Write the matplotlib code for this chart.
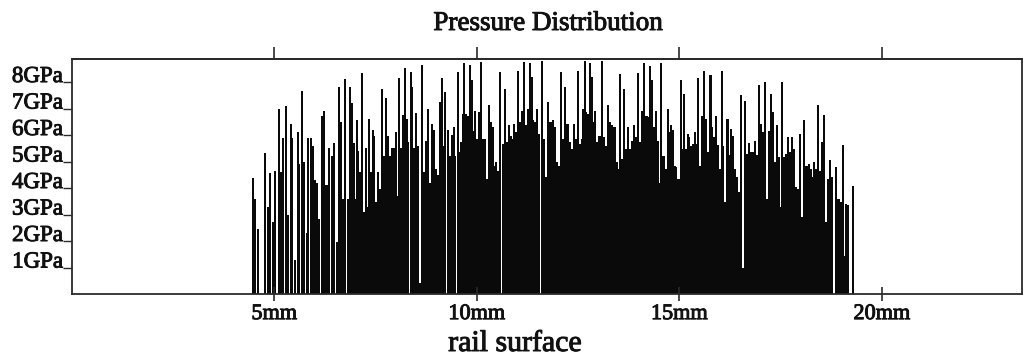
import matplotlib
matplotlib.use("Agg")
import matplotlib.pyplot as plt
import matplotlib.patheffects as pe

# ---- data (position along rail in mm, pressure in GPa) ----
position_mm = [
    4.47, 4.53, 4.60, 4.78, 4.84, 4.90, 4.96, 5.02, 5.11, 5.17, 5.21, 5.29, 5.35, 5.41, 5.45, 5.51,
    5.58, 5.62, 5.68, 5.74, 5.80, 5.84, 5.91, 5.95, 6.00, 6.05, 6.11, 6.17, 6.23, 6.29, 6.36, 6.42,
    6.48, 6.54, 6.59, 6.65, 6.70, 6.75, 6.81, 6.87, 6.92, 6.98,
    7.01, 7.04, 7.07, 7.12, 7.17, 7.22, 7.26, 7.29, 7.35, 7.39, 7.44, 7.47, 7.50, 7.55, 7.60, 7.65,
    7.70, 7.75, 7.80, 7.85, 7.90, 7.95, 8.00, 8.05, 8.09, 8.13, 8.17, 8.23, 8.27, 8.31, 8.37, 8.41,
    8.46, 8.51, 8.56, 8.60, 8.64, 8.69, 8.74, 8.80, 8.85, 8.90, 8.95, 9.00, 9.05, 9.10, 9.13, 9.18,
    9.22, 9.28, 9.33, 9.38, 9.43, 9.47, 9.53, 9.58,
    9.60, 9.65, 9.69, 9.73, 9.78, 9.83, 9.87, 9.91, 9.96, 10.01, 10.06, 10.11, 10.16, 10.21, 10.26,
    10.30, 10.34, 10.39, 10.43, 10.47, 10.52, 10.58, 10.64, 10.69, 10.74, 10.79, 10.84, 10.89, 10.93,
    10.98, 11.02, 11.07, 11.12, 11.17, 11.21, 11.26, 11.31, 11.36, 11.40, 11.45, 11.49, 11.54, 11.61,
    11.66, 11.71, 11.77, 11.82, 11.87, 11.92, 11.97, 12.02, 12.07, 12.12, 12.17,
    12.19, 12.24, 12.29, 12.34, 12.39, 12.44, 12.49, 12.54, 12.59, 12.62, 12.66, 12.70, 12.75, 12.80,
    12.84, 12.89, 12.93, 12.98, 13.03, 13.10, 13.15, 13.20, 13.25, 13.30, 13.35, 13.40, 13.45, 13.49,
    13.54, 13.59, 13.64, 13.69, 13.74, 13.79, 13.84, 13.89, 13.94, 13.99, 14.04, 14.09, 14.14, 14.19,
    14.24, 14.27, 14.32, 14.37, 14.42, 14.47, 14.52, 14.56, 14.61, 14.66, 14.71, 14.76,
    14.79, 14.84, 14.89, 14.93, 14.98, 15.03, 15.08, 15.12, 15.17, 15.21, 15.25, 15.30, 15.35, 15.39,
    15.44, 15.47, 15.52, 15.56, 15.61, 15.66, 15.71, 15.77, 15.81, 15.86, 15.91, 15.96, 16.00, 16.05,
    16.09, 16.14, 16.19, 16.24, 16.28, 16.33, 16.38, 16.43, 16.48, 16.53, 16.58, 16.61, 16.66, 16.71,
    16.76, 16.81, 16.86, 16.91, 16.96, 17.01, 17.06, 17.11, 17.16, 17.21, 17.26, 17.31, 17.35,
    17.40, 17.45, 17.49, 17.54, 17.59, 17.64, 17.69, 17.74, 17.79, 17.84, 17.89, 17.94, 17.99, 18.04,
    18.09, 18.14, 18.19, 18.24, 18.28, 18.33, 18.38, 18.43, 18.48, 18.53, 18.58, 18.63, 18.68, 18.73,
    18.76, 18.88, 18.93, 18.98, 19.03, 19.07, 19.12, 19.17, 19.28,
]
pressure_gpa = [
    4.37, 3.60, 2.47, 5.34, 3.30, 4.58, 2.70, 4.65, 7.00, 4.60, 5.88, 7.10, 3.00, 6.40, 5.90, 1.30,
    6.10, 4.90, 7.68, 5.00, 2.30, 5.90, 5.90, 5.60, 4.30, 4.20, 2.83, 6.73, 6.92, 4.10, 5.50, 5.20,
    5.70, 1.95, 7.80, 6.50, 3.60, 8.12, 3.60, 7.80, 7.20, 5.70,
    3.60, 6.55, 5.40, 4.60, 8.35, 3.10, 5.50, 3.30, 6.60, 4.60, 6.20, 5.98, 3.46, 4.60, 3.97, 7.74,
    5.20, 7.40, 5.98, 5.20, 5.50, 5.50, 6.10, 3.70, 8.15, 5.50, 6.76, 8.53, 6.60, 5.72, 8.39, 7.80,
    5.50, 6.84, 5.60, 0.40, 8.65, 4.60, 5.79, 6.99, 4.20, 6.42, 6.20, 4.72, 4.50, 7.24, 8.15, 5.60,
    7.64, 6.20, 5.20, 6.00, 6.30, 5.20, 8.37, 5.35,
    5.72, 6.80, 8.72, 6.80, 6.73, 8.65, 8.06, 6.17, 6.92, 5.85, 6.86, 8.75, 5.85, 5.85, 4.35,
    7.14, 6.48, 6.30, 4.85, 4.97, 4.66, 8.37, 5.66, 7.74, 5.72, 6.36, 5.98, 5.85, 6.42,
    6.10, 8.43, 6.48, 6.92, 8.77, 6.36, 6.99, 8.72, 8.18, 6.55, 6.48, 6.99, 6.05, 8.80,
    5.85, 4.41, 7.24, 6.48, 6.55, 6.30, 4.97, 4.85, 8.39, 5.85, 7.80,
    5.72, 6.40, 5.72, 5.48, 6.42, 5.85, 8.43, 5.66, 5.85, 6.99, 8.80, 6.86, 6.80, 8.72,
    8.18, 6.48, 6.92, 5.72, 5.98, 8.80, 5.91, 5.60, 7.14, 6.48, 6.36, 6.30, 4.97, 4.72,
    8.30, 5.10, 7.74, 5.48, 6.30, 5.48, 5.79, 6.36, 5.91, 8.35, 5.72, 6.92, 8.72, 6.73,
    6.67, 8.62, 8.06, 6.30, 6.92, 5.79, 4.20, 8.72, 5.20, 4.72, 6.99, 6.10,
    6.36, 6.20, 4.85, 4.78, 4.35, 8.06, 5.48, 7.55, 5.48, 6.05, 5.91, 5.60, 5.66, 6.12,
    5.66, 8.15, 4.85, 6.73, 8.43, 6.60, 5.35, 8.27, 6.30, 5.91, 6.73, 5.63, 4.72, 8.43,
    5.60, 3.46, 6.60, 5.23, 6.23, 5.98, 4.72, 4.41, 3.85, 7.50, 1.00, 7.30, 5.29, 5.70,
    5.35, 5.35, 5.79, 5.23, 7.87, 6.42, 6.10, 8.02, 3.59, 6.17, 7.55, 6.86, 4.97,
    6.36, 5.16, 3.28, 7.99, 5.16, 5.29, 5.91, 5.35, 5.91, 5.48, 4.03, 3.97, 6.05, 2.90,
    6.55, 4.85, 4.91, 4.72, 4.41, 4.97, 4.72, 7.14, 4.66, 5.75, 6.76, 2.71, 4.35, 5.04,
    4.41, 4.78, 3.59, 3.46, 5.63, 1.45, 3.40, 3.37, 4.07,
]
x_ticks_mm = [5, 10, 15, 20]
x_tick_labels = ["5mm", "10mm", "15mm", "20mm"]
y_ticks_gpa = [1, 2, 3, 4, 5, 6, 7, 8]
y_tick_labels = ["1GPa", "2GPa", "3GPa", "4GPa", "5GPa", "6GPa", "7GPa", "8GPa"]
title_text = "Pressure Distribution"
x_label_text = "rail surface"

plt.rcParams['font.family'] = ['Liberation Serif', 'DejaVu Serif']

INK = '#111111'
heavy = [pe.withStroke(linewidth=0.7, foreground=INK)]

W, H = 1026, 358
fig = plt.figure(figsize=(W / 100, H / 100), dpi=100)
left, right, top, bottom = 71.7, 1022.0, 59.0, 294.0
ax = fig.add_axes([left / W, 1 - bottom / H, (right - left) / W, (bottom - top) / H])

ax.bar(position_mm, pressure_gpa, width=0.05, color='#0a0a0a', linewidth=0, align='center')

ax.set_xlim(0, 23.46)
ax.set_ylim(0, 8.87)

for s in ax.spines.values():
    s.set_linewidth(1.3)
    s.set_color('#2a2a2a')

ax.set_xticks(x_ticks_mm, x_tick_labels)
ax.set_yticks(y_ticks_gpa, y_tick_labels)
ax.tick_params(axis='x', direction='inout', length=10, width=1.2, pad=3,
               labelsize=16, color='#2a2a2a', labelcolor=INK)
ax.tick_params(axis='y', direction='out', length=6.5, width=1.0, pad=0,
               labelsize=16.5, color='#2a2a2a', labelcolor=INK)
for lab in ax.get_yticklabels():
    lab.set_verticalalignment('baseline')
    lab.set_path_effects(heavy)
for lab in ax.get_xticklabels():
    lab.set_path_effects(heavy)

topax = ax.secondary_xaxis('top')
topax.set_xticks(x_ticks_mm)
topax.set_xticklabels([])
topax.tick_params(direction='out', length=8.6, width=1.2, color='#2a2a2a')
topax.spines['top'].set_linewidth(1.3)
topax.spines['top'].set_color('#2a2a2a')

xl = ax.set_xlabel(x_label_text, fontsize=21.5, color=INK, va='baseline')
xl.set_path_effects(heavy)
ax.xaxis.set_label_coords((515 - left) / (right - left), (bottom - 351) / (bottom - top))

st = fig.suptitle(title_text, x=548 / W, y=1 - 30 / H, ha='center', va='baseline',
                  fontsize=19.5, color=INK)
st.set_path_effects(heavy)

fig.savefig("out.png", dpi=100)
